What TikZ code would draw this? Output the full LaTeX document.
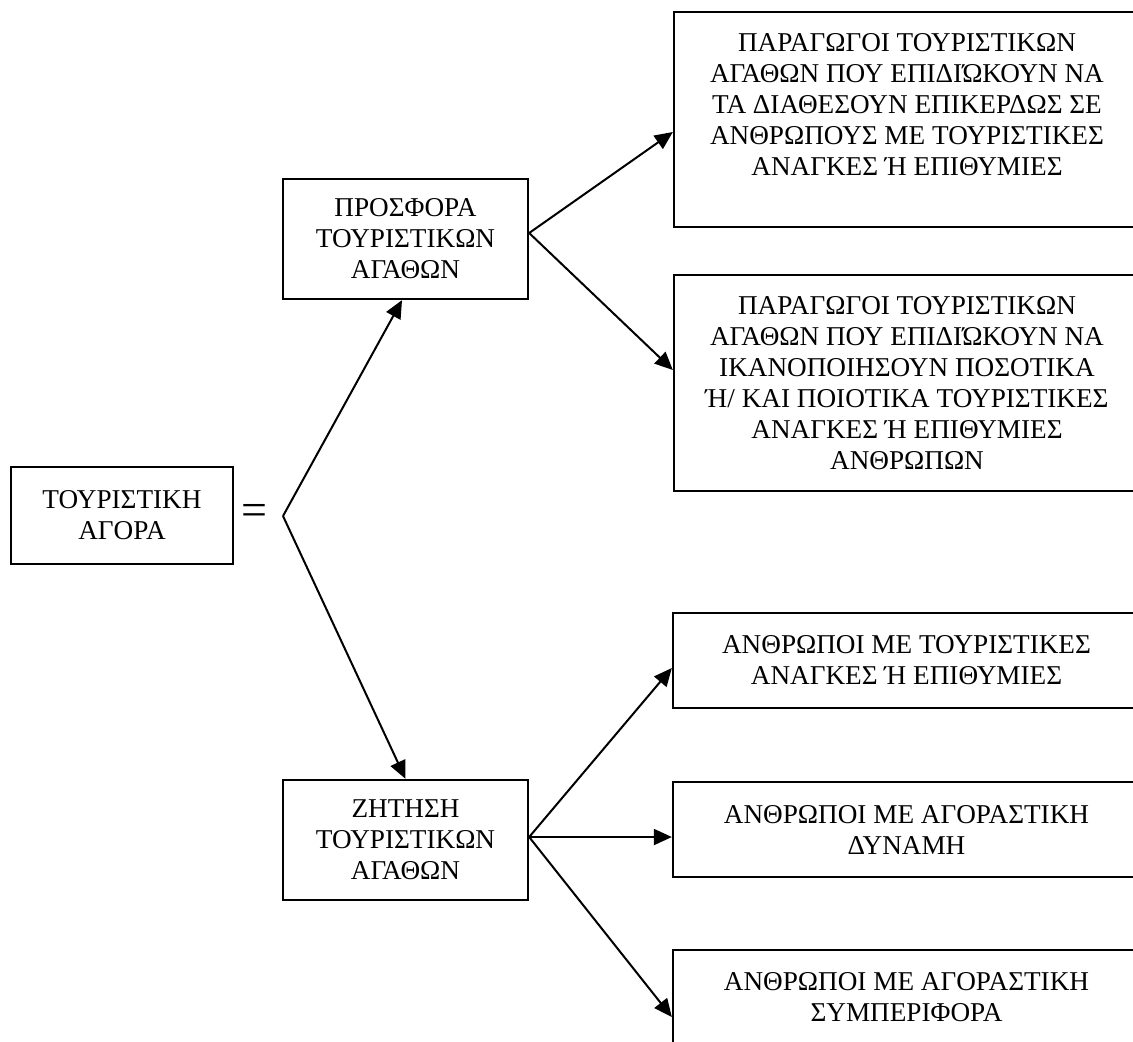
\documentclass[tikz,border=0pt]{standalone}
\usepackage{fontspec}
\setmainfont{Liberation Serif}
\usetikzlibrary{arrows.meta}

\tikzset{
	boite/.style={draw, line width=1.15pt, align=center, inner sep=0pt,
		font=\fontsize{13.6}{15.5}\selectfont},
	fleche/.style={-{Triangle[length=9pt,width=8pt]}, line width=1pt},
}

\begin{document}
\begin{tikzpicture}[x=0.5pt,y=-0.5pt]
	\useasboundingbox (0,0) rectangle (1133,1041);

	% left part
	\node[boite, minimum width=111pt, minimum height=48.5pt] (agora) at (122,515.5) {ΤΟΥΡΙΣΤΙΚΗ\\ΑΓΟΡΑ};
	\node[inner sep=0pt, font=\fontsize{23}{23}\selectfont] (isotita) at (254.5,515) {=};
	\coordinate (v) at (283,516);

	% supply and demand
	\node[boite, minimum width=122.5pt, minimum height=60pt] (prosfora) at (405.5,239) {ΠΡΟΣΦΟΡΑ\\ΤΟΥΡΙΣΤΙΚΩΝ\\ΑΓΑΘΩΝ};
	\node[boite, minimum width=122.5pt, minimum height=60pt] (zitisi) at (405.5,840) {ΖΗΤΗΣΗ\\ΤΟΥΡΙΣΤΙΚΩΝ\\ΑΓΑΘΩΝ};

	% right boxes
	\node[boite, minimum width=233pt, minimum height=107.5pt] (paragogoi1) at (907,119.5)
		{ΠΑΡΑΓΩΓΟΙ ΤΟΥΡΙΣΤΙΚΩΝ\\ΑΓΑΘΩΝ ΠΟΥ ΕΠΙΔΙΏΚΟΥΝ ΝΑ\\ΤΑ ΔΙΑΘΕΣΟΥΝ ΕΠΙΚΕΡΔΩΣ ΣΕ\\ΑΝΘΡΩΠΟΥΣ ΜΕ ΤΟΥΡΙΣΤΙΚΕΣ\\ΑΝΑΓΚΕΣ Ή ΕΠΙΘΥΜΙΕΣ\\ \mbox{}};
	\node[boite, minimum width=233pt, minimum height=108pt] (paragogoi2) at (907,383)
		{ΠΑΡΑΓΩΓΟΙ ΤΟΥΡΙΣΤΙΚΩΝ\\ΑΓΑΘΩΝ ΠΟΥ ΕΠΙΔΙΏΚΟΥΝ ΝΑ\\ΙΚΑΝΟΠΟΙΗΣΟΥΝ ΠΟΣΟΤΙΚΑ\\Ή/ ΚΑΙ ΠΟΙΟΤΙΚΑ ΤΟΥΡΙΣΤΙΚΕΣ\\ΑΝΑΓΚΕΣ Ή ΕΠΙΘΥΜΙΕΣ\\ΑΝΘΡΩΠΩΝ};
	\node[boite, minimum width=233.5pt, minimum height=47.5pt] (anthropoi1) at (906.5,660.5)
		{ΑΝΘΡΩΠΟΙ ΜΕ ΤΟΥΡΙΣΤΙΚΕΣ\\ΑΝΑΓΚΕΣ Ή ΕΠΙΘΥΜΙΕΣ};
	\node[boite, minimum width=233.5pt, minimum height=47.5pt] (anthropoi2) at (906.5,829.5)
		{ΑΝΘΡΩΠΟΙ ΜΕ ΑΓΟΡΑΣΤΙΚΗ\\ΔΥΝΑΜΗ};
	\node[boite, minimum width=233.5pt, minimum height=47.5pt] (anthropoi3) at (906.5,997.5)
		{ΑΝΘΡΩΠΟΙ ΜΕ ΑΓΟΡΑΣΤΙΚΗ\\ΣΥΜΠΕΡΙΦΟΡΑ};

	% branch points
	\coordinate (p) at ([yshift=3pt]prosfora.east);
	\coordinate (z) at ([yshift=1.5pt]zitisi.east);

	% arrows
	\draw[fleche] (v) -- ([xshift=-1.75pt]prosfora.south);
	\draw[fleche] (v) -- (zitisi.north);

	\draw[fleche] (p) -- ([yshift=-6.25pt]paragogoi1.west);
	\draw[fleche] (p) -- ([yshift=6.5pt]paragogoi2.west);

	\draw[fleche] (z) -- ([yshift=-3.75pt]anthropoi1.west);
	\draw[fleche] (z) -- ([yshift=-3.75pt]anthropoi2.west);
	\draw[fleche] (z) -- ([yshift=-9.75pt]anthropoi3.west);

\end{tikzpicture}
\end{document}
